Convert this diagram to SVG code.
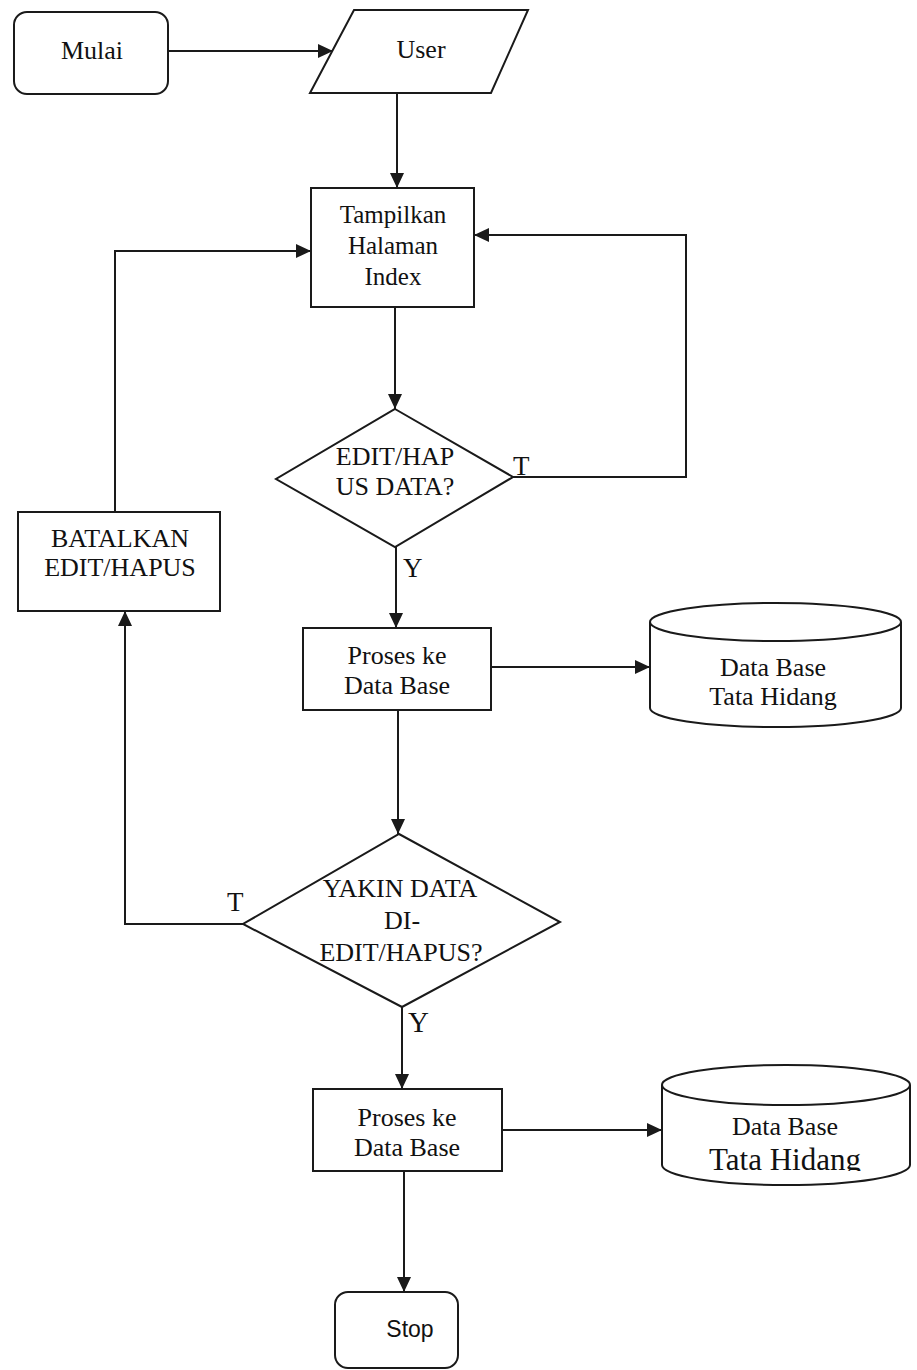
<svg xmlns="http://www.w3.org/2000/svg" width="917" height="1370" viewBox="0 0 917 1370">
  <style>
    .shape { fill: #fff; stroke: #1a1a1a; stroke-width: 2; }
    .wire { fill: none; stroke: #1a1a1a; stroke-width: 2; marker-end: url(#head); }
    text { font-family: "Liberation Serif", "Times New Roman", serif; font-size: 26px; fill: #111; text-anchor: middle; }
    .sans { font-family: "Liberation Sans", Arial, sans-serif; font-size: 23px; }
    .lbl { text-anchor: start; font-size: 27px; }
  </style>
  <defs>
    <marker id="head" markerUnits="userSpaceOnUse" markerWidth="16" markerHeight="14" refX="15" refY="7" orient="auto">
      <path d="M0,0 L15,7 L0,14 z" fill="#1a1a1a"/>
    </marker>
    <clipPath id="cutBottom">
      <rect x="660" y="1060" width="260" height="111"/>
    </clipPath>
  </defs>

  <!-- connectors -->
  <g id="connectors">
    <path class="wire" d="M168,51 H333"/>
    <path class="wire" d="M397,93 V188"/>
    <path class="wire" d="M395,307 V409"/>
    <path class="wire" d="M513,477 H686 V235 H474"/>
    <path class="wire" d="M396,547 V628"/>
    <path class="wire" d="M491,667 H650"/>
    <path class="wire" d="M398,710 V834"/>
    <path class="wire" d="M243,924 H125 V611"/>
    <path class="wire" d="M115,512 V251 H311"/>
    <path class="wire" d="M402,1007 V1089"/>
    <path class="wire" d="M502,1130 H662"/>
    <path class="wire" d="M404,1171 V1292"/>
  </g>

  <g id="mulai">
    <rect class="shape" x="14" y="12" width="154" height="82" rx="13"/>
    <text x="92" y="59">Mulai</text>
  </g>

  <g id="user">
    <polygon class="shape" points="354,10 528,10 491,93 310,93"/>
    <text x="421" y="58">User</text>
  </g>

  <g id="tampilkan">
    <rect class="shape" x="311" y="188" width="163" height="119"/>
    <text x="393" y="223" style="font-size:25px">Tampilkan</text>
    <text x="393" y="254" style="font-size:25px">Halaman</text>
    <text x="393" y="285" style="font-size:25px">Index</text>
  </g>

  <g id="cek-edit">
    <polygon class="shape" points="395,409 513,477 395,547 276,479"/>
    <text x="395" y="465">EDIT/HAP</text>
    <text x="395" y="495">US DATA?</text>
    <text class="lbl" x="513" y="475">T</text>
    <text class="lbl" x="403" y="577">Y</text>
  </g>

  <g id="proses-1">
    <rect class="shape" x="303" y="628" width="188" height="82"/>
    <text x="397" y="664">Proses ke</text>
    <text x="397" y="694">Data Base</text>
  </g>

  <g id="database-1">
    <path class="shape" d="M650,622 V708 A125.5,19 0 0 0 901,708 V622"/>
    <ellipse class="shape" cx="775.5" cy="622" rx="125.5" ry="19"/>
    <text x="773" y="676">Data Base</text>
    <text x="773" y="705">Tata Hidang</text>
  </g>

  <g id="batalkan">
    <rect class="shape" x="18" y="512" width="202" height="99"/>
    <text x="120" y="547">BATALKAN</text>
    <text x="120" y="576">EDIT/HAPUS</text>
  </g>

  <g id="yakin">
    <polygon class="shape" points="399,834 560,922 402,1007 243,924"/>
    <text x="400" y="897">YAKIN DATA</text>
    <text x="402" y="929">DI-</text>
    <text x="401" y="961">EDIT/HAPUS?</text>
    <text class="lbl" x="227" y="911">T</text>
    <text class="lbl" x="408" y="1032" style="font-size:29px">Y</text>
  </g>

  <g id="proses-2">
    <rect class="shape" x="313" y="1089" width="189" height="82"/>
    <text x="407" y="1126">Proses ke</text>
    <text x="407" y="1156">Data Base</text>
  </g>

  <g id="database-2">
    <path class="shape" d="M662,1085 V1165 A124,20 0 0 0 910,1165 V1085"/>
    <ellipse class="shape" cx="786" cy="1085" rx="124" ry="20"/>
    <text x="785" y="1135">Data Base</text>
    <text x="785" y="1170" style="font-size:31px" clip-path="url(#cutBottom)">Tata Hidang</text>
  </g>

  <g id="stop">
    <rect class="shape" x="335" y="1292" width="123" height="76" rx="13"/>
    <text class="sans" x="410" y="1337">Stop</text>
  </g>
</svg>
